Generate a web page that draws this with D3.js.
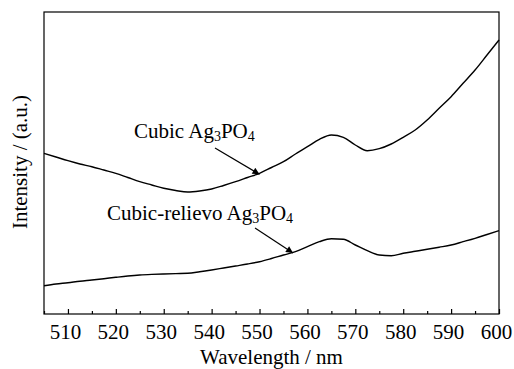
<!DOCTYPE html>
<html>
<head>
<meta charset="utf-8">
<script src="https://cdn.jsdelivr.net/npm/d3@7"></script>
<style>
  body { margin: 0; background: #fff; }
  svg { font-family: "Liberation Serif", "Times New Roman", serif; }
</style>
</head>
<body>
<svg width="514" height="369"></svg>
<script>
// wavelength (nm), read every 2.5 nm
var wavelength = [505, 507.5, 510, 512.5, 515, 517.5, 520, 522.5, 525, 527.5, 530, 532.5, 535, 537.5,
  540, 542.5, 545, 547.5, 550, 552.5, 555, 557.5, 560, 562.5, 565, 567.5, 570, 572.5,
  575, 577.5, 580, 582.5, 585, 587.5, 590, 592.5, 595, 597.5, 600];

// intensity (a.u.)
var cubic = [160.7, 157, 153.3, 150, 147.3, 144, 140.7, 136.5, 132.3, 129, 125.7, 123.5, 122, 123,
  125, 128.5, 132.3, 136.5, 140.7, 146.5, 152.3, 160, 167.3, 174.7, 179, 176.7, 169, 163.3,
  165.3, 170, 176.7, 184, 194, 205.7, 217.3, 230.7, 244, 259, 274];

var relievo = [28.3, 30, 31.3, 32.8, 34, 35.3, 36.7, 38, 39, 39.6, 40, 40.4, 40.7, 42.2,
  44, 46, 48, 50, 52.3, 55.5, 59, 62.3, 67.3, 72.3, 75.3, 74.7, 69, 63.3,
  59, 58.3, 60.7, 62.7, 64.7, 66.8, 69, 72.3, 75.7, 79.5, 83.3];

var xTicks = [510, 520, 530, 540, 550, 560, 570, 580, 590, 600];

var svg = d3.select('svg'),
    mLeft = 44, mRight = 499, mTop = 12, mBottom = 314;

var xScale = d3.scaleLinear().domain([505, 600]).range([mLeft, mRight]);
var yScale = d3.scaleLinear().domain([0, 302]).range([mBottom, mTop]);

var line = d3.line()
  .x(function(d, i) { return xScale(wavelength[i]); })
  .y(function(d) { return yScale(d); })
  .curve(d3.curveMonotoneX);

svg.append('defs').append('marker')
  .attr('id', 'arrow')
  .attr('viewBox', '0 0 10 10')
  .attr('refX', 10).attr('refY', 5)
  .attr('markerWidth', 11).attr('markerHeight', 7)
  .attr('markerUnits', 'userSpaceOnUse')
  .attr('orient', 'auto')
  .append('path').attr('d', 'M0,0 L10,5 L0,10 Z').attr('fill', '#000');

// frame
svg.append('rect')
  .attr('x', mLeft).attr('y', mTop)
  .attr('width', mRight - mLeft).attr('height', mBottom - mTop)
  .attr('fill', 'none').attr('stroke', '#000').attr('stroke-width', 1.2);

// bottom axis, ticks inward
var minor = d3.range(505, 601, 5).filter(function(v) { return v % 10 != 0; });
svg.append('g')
  .attr('transform', 'translate(0,' + mBottom + ')')
  .call(d3.axisBottom(xScale).tickValues(minor).tickSize(-3).tickFormat(''))
  .call(function(g) { g.select('.domain').remove(); });

var xAxis = svg.append('g')
  .attr('transform', 'translate(0,' + mBottom + ')')
  .call(d3.axisBottom(xScale).tickValues(xTicks).tickSize(-5).tickPadding(10));
xAxis.select('.domain').remove();
xAxis.attr('font-size', 21).attr('font-family', '"Liberation Serif", serif');
xAxis.selectAll('text').attr('fill', '#000').attr('dx', -3);

svg.selectAll('.tick line').attr('stroke', '#000').attr('stroke-width', 1.2);

// curves
[cubic, relievo].forEach(function(s) {
  svg.append('path')
    .datum(s)
    .attr('d', line)
    .attr('fill', 'none')
    .attr('stroke', '#000')
    .attr('stroke-width', 1.4);
});

// annotations
svg.append('text').attr('x', 134).attr('y', 138).attr('font-size', 21)
  .html('Cubic Ag<tspan dy="3" font-size="14">3</tspan><tspan dy="-3">PO</tspan><tspan dy="3" font-size="14">4</tspan>');
svg.append('line')
  .attr('x1', 215).attr('y1', 148).attr('x2', xScale(550)).attr('y2', yScale(140.7) + 1)
  .attr('stroke', '#000').attr('stroke-width', 1.2).attr('marker-end', 'url(#arrow)');

svg.append('text').attr('x', 107).attr('y', 220).attr('font-size', 21)
  .html('Cubic-relievo Ag<tspan dy="3" font-size="14">3</tspan><tspan dy="-3">PO</tspan><tspan dy="3" font-size="14">4</tspan>');
svg.append('line')
  .attr('x1', 255).attr('y1', 228).attr('x2', xScale(557)).attr('y2', yScale(62) + 1)
  .attr('stroke', '#000').attr('stroke-width', 1.2).attr('marker-end', 'url(#arrow)');

// axis titles
svg.append('text')
  .attr('x', (mLeft + mRight) / 2).attr('y', 364)
  .attr('text-anchor', 'middle').attr('font-size', 21)
  .text('Wavelength / nm');

svg.append('text')
  .attr('transform', 'translate(27,' + 162 + ') rotate(-90)')
  .attr('text-anchor', 'middle').attr('font-size', 21)
  .text('Intensity / (a.u.)');
</script>
</body>
</html>
